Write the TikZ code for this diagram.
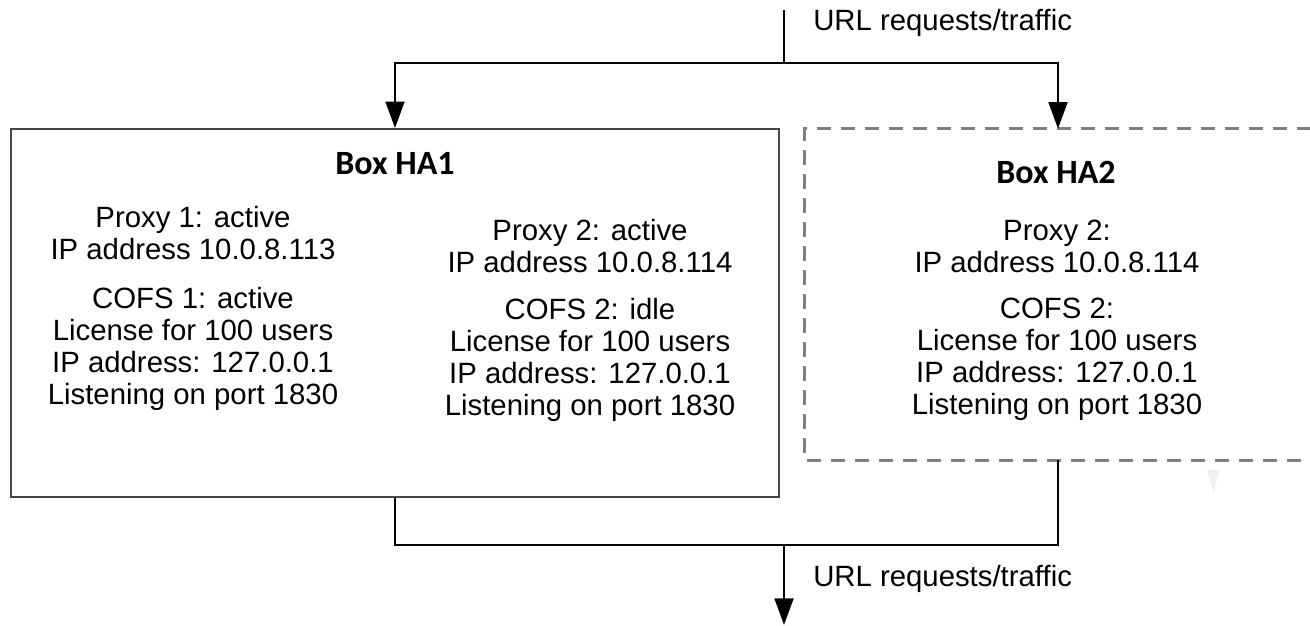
\documentclass[tikz,border=0pt]{standalone}
\usepackage{fontspec}
\setmainfont{Liberation Sans}
\newfontfamily\titlefont{Carlito}
\usetikzlibrary{arrows.meta}

\definecolor{boxgrey}{RGB}{70,70,70}
\definecolor{dashgrey}{RGB}{128,128,128}

\tikzset{
  flow/.style={line width=2.2pt, draw=black},
  flowarrow/.style={flow, -{Triangle[length=20pt,width=14pt]}},
  infotext/.style={align=center, inner sep=0pt, font=\fontsize{22}{24}\selectfont},
  boxtitle/.style={inner sep=0pt, font=\titlefont\bfseries\fontsize{25.5}{28}\selectfont},
}

\begin{document}
\begin{tikzpicture}[x=0.75pt,y=0.75pt,yscale=-1]
  \useasboundingbox (0,0) rectangle (1310,625);

  % the two HA boxes
  \node (ha1) [draw=boxgrey, line width=1.2pt, inner sep=0pt, minimum width=576pt, minimum height=276pt] at (395,313) {};
  \node (ha2) [inner sep=0pt, minimum width=379.5pt, minimum height=248.25pt] at (1058,294.5) {};
  \draw [draw=dashgrey, line width=2.2pt, dash pattern=on 11pt off 7pt] (ha2.north east) -- (ha2.north west) -- (ha2.south west) -- (ha2.south east);

  % traffic in and out
  \coordinate (in) at (784,10);
  \coordinate (split) at (784,63);
  \coordinate (join) at (784,545);
  \coordinate (out) at (784,625);

  \draw [flow] (in) -- (split);
  \draw [flowarrow] (split) -| (ha1.north);
  \draw [flowarrow] (split) -| (ha2.north);
  \draw [flow] (ha1.south) |- (join);
  \draw [flow] (ha2.south) |- (join);
  \draw [flowarrow] (join) -- (out);

  \node (urlin) [infotext, anchor=west] at (813,23) {URL requests/traffic};
  \node (urlout) [infotext, anchor=west] at (813,579) {URL requests/traffic};

  % box contents
  \node (title1) [boxtitle] at (395,164) {Box HA1};
  \node (title2) [boxtitle] at (1056,172) {Box HA2};

  \node (proxy1) [infotext] at (193,233) {Proxy 1: active\\IP address 10.0.8.113};
  \node (cofs1) [infotext] at (193,349) {COFS 1: active\\License for 100 users\\IP address: 127.0.0.1\\Listening on port 1830};

  \node (proxy2) [infotext] at (590,246.5) {Proxy 2: active\\IP address 10.0.8.114};
  \node (cofs2) [infotext] at (590,359.5) {COFS 2: idle\\License for 100 users\\IP address: 127.0.0.1\\Listening on port 1830};

  \node (proxy3) [infotext] at (1057,246.5) {Proxy 2:\\IP address 10.0.8.114};
  \node (cofs3) [infotext] at (1057,359.5) {COFS 2:\\License for 100 users\\IP address: 127.0.0.1\\Listening on port 1830};

  \fill [gray!12] (1207,470) -- (1220,470) -- (1213.5,492) -- cycle;
\end{tikzpicture}
\end{document}
